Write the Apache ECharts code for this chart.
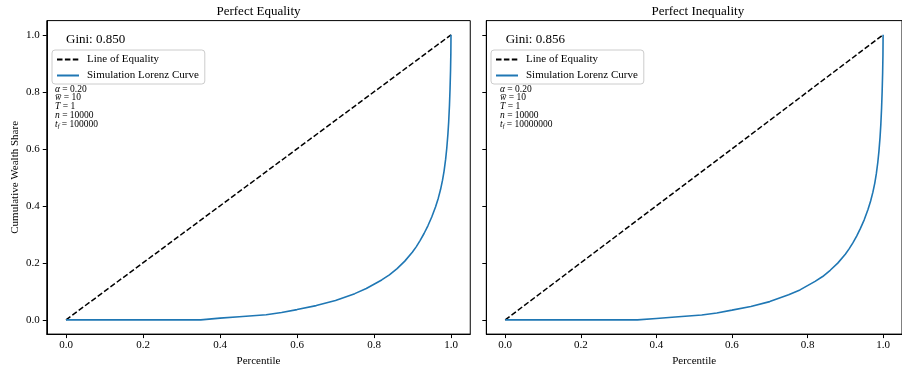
<!DOCTYPE html>
<html>
<head>
<meta charset="utf-8">
<script src="https://cdn.jsdelivr.net/npm/echarts@6/dist/echarts.min.js"></script>
<style>
  html, body { margin: 0; padding: 0; background: #fff; }
  #chart { width: 902px; height: 372px; }
</style>
</head>
<body>
<div id="chart"></div>
<script>
// Panel headings and Gini coefficients
const panelTitles = ['Perfect Equality', 'Perfect Inequality'];
const giniLabels = ['Gini: 0.850', 'Gini: 0.856'];

// Reference diagonal
const equalityX = [0, 1];
const equalityY = [0, 1];

// Simulated Lorenz curve, first run
const percentileA = [0, 0.35, 0.40, 0.45, 0.52, 0.56, 0.60, 0.65, 0.70, 0.75, 0.78, 0.80, 0.82, 0.84, 0.86, 0.88, 0.90, 0.91, 0.92, 0.93, 0.94, 0.95, 0.96, 0.967, 0.973, 0.978, 0.982, 0.986, 0.989, 0.992, 0.994, 0.996, 0.9975, 0.9988, 0.9996, 1];
const shareA = [0, 0, 0.006, 0.011, 0.018, 0.026, 0.036, 0.050, 0.068, 0.092, 0.110, 0.125, 0.140, 0.158, 0.180, 0.206, 0.238, 0.257, 0.279, 0.303, 0.330, 0.361, 0.397, 0.427, 0.458, 0.490, 0.522, 0.563, 0.602, 0.652, 0.695, 0.752, 0.810, 0.875, 0.935, 1.0];

// Simulated Lorenz curve, second run
const percentileB = [0, 0.35, 0.40, 0.45, 0.52, 0.56, 0.60, 0.65, 0.70, 0.75, 0.78, 0.80, 0.82, 0.84, 0.86, 0.88, 0.90, 0.91, 0.92, 0.93, 0.94, 0.95, 0.96, 0.967, 0.973, 0.978, 0.982, 0.986, 0.989, 0.992, 0.994, 0.996, 0.9975, 0.9988, 0.9996, 1];
const shareB = [0, 0, 0.005, 0.010, 0.017, 0.024, 0.034, 0.047, 0.064, 0.088, 0.105, 0.120, 0.135, 0.152, 0.174, 0.199, 0.230, 0.249, 0.270, 0.294, 0.321, 0.351, 0.387, 0.417, 0.448, 0.480, 0.512, 0.553, 0.592, 0.642, 0.686, 0.744, 0.802, 0.868, 0.930, 1.0];

// Axis ticks
const tickValues = [0, 0.2, 0.4, 0.6, 0.8, 1.0];

// Simulation parameters per panel: alpha, mean wealth, T, n, t_f
const paramsA = ['0.20', '10', '1', '10000', '100000'];
const paramsB = ['0.20', '10', '1', '10000', '10000000'];

const SERIF = '"Liberation Serif", "DejaVu Serif", serif';
const BLUE = '#1f77b4';

const zip = (xs, ys) => xs.map((x, i) => [x, ys[i]]);

const grids = [
  { left: 46.75, top: 20.6, width: 423.5, height: 315.8 },
  { left: 486.3, top: 20.6, width: 423, height: 315.8 }
];

function makeXAxis(idx) {
  return {
    type: 'value', gridIndex: idx, min: -0.05, max: 1.05,
    name: 'Percentile', nameLocation: 'middle', nameGap: 20,
    nameTextStyle: { fontFamily: SERIF, fontSize: 11, color: '#000' },
    axisLine: { show: true, onZero: false, lineStyle: { color: '#000', width: 1 } },
    axisTick: { show: true, customValues: tickValues, length: 4, lineStyle: { color: '#000', width: 1 } },
    axisLabel: { customValues: tickValues, formatter: v => v.toFixed(1), margin: 6,
                 fontFamily: SERIF, fontSize: 11, color: '#000' },
    splitLine: { show: false }
  };
}

function makeYAxis(idx) {
  return {
    type: 'value', gridIndex: idx, min: -0.05, max: 1.05,
    name: idx === 0 ? 'Cumulative Wealth Share' : '', nameLocation: 'middle', nameGap: 26,
    nameTextStyle: { fontFamily: SERIF, fontSize: 11, color: '#000' },
    axisLine: { show: true, onZero: false, lineStyle: { color: '#000', width: 1 } },
    axisTick: { show: true, customValues: tickValues, length: 4, lineStyle: { color: '#000', width: 1 } },
    axisLabel: { show: idx === 0, customValues: tickValues, formatter: v => v.toFixed(1), margin: 7,
                 fontFamily: SERIF, fontSize: 11, color: '#000' },
    splitLine: { show: false }
  };
}

function makeSeries(idx, xs, ys) {
  return [
    {
      name: 'Line of Equality', type: 'line', xAxisIndex: idx, yAxisIndex: idx,
      data: zip(equalityX, equalityY), symbol: 'none', animation: false,
      lineStyle: { color: '#000', width: 1.5, type: [5.5, 2.4] }, itemStyle: { color: '#000' }
    },
    {
      name: 'Simulation Lorenz Curve', type: 'line', xAxisIndex: idx, yAxisIndex: idx,
      data: zip(xs, ys), symbol: 'none', animation: false,
      lineStyle: { color: BLUE, width: 1.6 }, itemStyle: { color: BLUE }
    }
  ];
}

function makeLegend(left) {
  return {
    left: left, top: 50, orient: 'vertical', selectedMode: false,
    data: ['Line of Equality', 'Simulation Lorenz Curve'],
    itemWidth: 22, itemHeight: 10, itemGap: 5,
    padding: [4, 6, 3, 4],
    borderColor: '#cccccc', borderWidth: 1, borderRadius: 3, backgroundColor: '#fff',
    itemStyle: { color: 'transparent', borderWidth: 0, opacity: 0 },
    textStyle: { fontFamily: SERIF, fontSize: 11, color: '#000', padding: [0, 0, 0, 3] }
  };
}

function paramText(p) {
  return [
    '{i|\u03b1} = ' + p[0],
    '{i|w\u0305} = ' + p[1],
    '{i|T} = ' + p[2],
    '{i|n} = ' + p[3],
    '{i|t}{sub|f} = ' + p[4]
  ].join('\n');
}

function paramGraphic(x, p) {
  return {
    type: 'text', left: x, top: 84, silent: true,
    style: {
      text: paramText(p), fontFamily: SERIF, fontSize: 9.5, fill: '#000', lineHeight: 8.8,
      rich: {
        i: { fontFamily: SERIF, fontStyle: 'italic', fontSize: 9.5, lineHeight: 8.8 },
        sub: { fontFamily: SERIF, fontStyle: 'italic', fontSize: 6.5, lineHeight: 8.8, padding: [4, 0, 0, 0] }
      }
    }
  };
}

function labelGraphic(x, y, text, size, align) {
  return {
    type: 'text', x: x, y: y, silent: true,
    style: { text: text, fontFamily: SERIF, fontSize: size, fill: '#000',
             align: align, verticalAlign: 'middle' }
  };
}

const chart = echarts.init(document.getElementById('chart'), null, { renderer: 'canvas' });
chart.setOption({
  backgroundColor: '#fff',
  animation: false,
  grid: grids.map(g => Object.assign({ show: true, borderColor: '#000', borderWidth: 1, backgroundColor: 'transparent' }, g)),
  xAxis: [makeXAxis(0), makeXAxis(1)],
  yAxis: [makeYAxis(0), makeYAxis(1)],
  legend: [makeLegend(52), makeLegend(491)],
  series: [...makeSeries(0, percentileA, shareA), ...makeSeries(1, percentileB, shareB)],
  graphic: [
    labelGraphic(258.5, 12, panelTitles[0], 13, 'center'),
    labelGraphic(697.8, 12, panelTitles[1], 13, 'center'),
    labelGraphic(66, 40, giniLabels[0], 13, 'left'),
    labelGraphic(505.7, 40, giniLabels[1], 13, 'left'),
    paramGraphic(55, paramsA),
    paramGraphic(500, paramsB)
  ]
});
</script>
</body>
</html>
